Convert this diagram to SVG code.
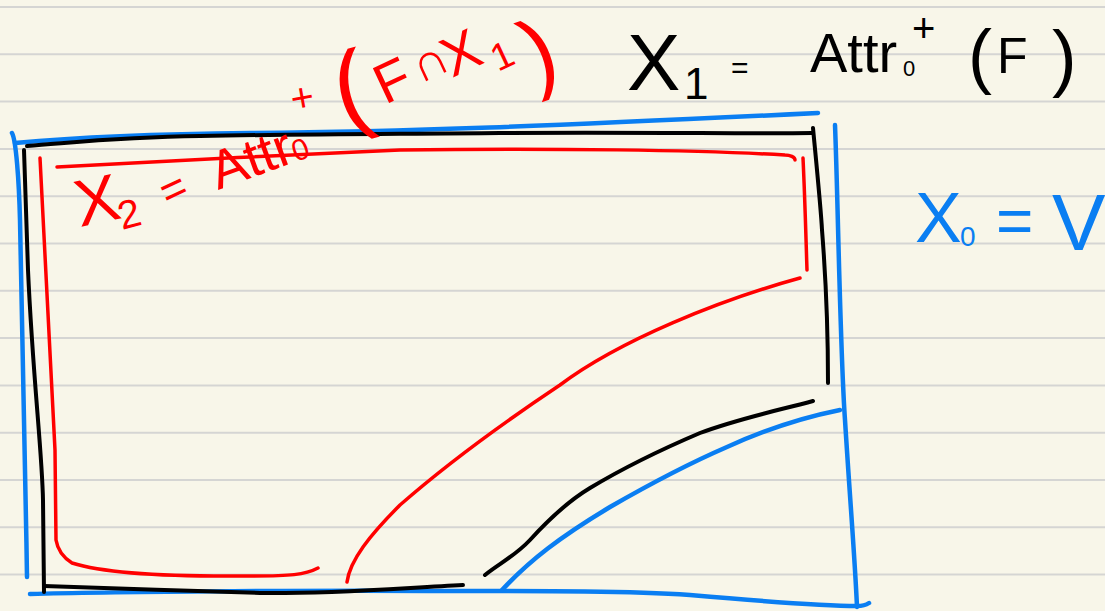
<svg xmlns="http://www.w3.org/2000/svg" width="1105" height="611" viewBox="0 0 1105 611">
<style>
.rule{stroke:#d5d5d3;stroke-width:2;fill:none}
.s{fill:none;stroke-linecap:round;stroke-linejoin:round}
.b{stroke:#0a7ef2;stroke-width:4.5}
.k{stroke:#000;stroke-width:4}
.r{stroke:#ff0000;stroke-width:3.5}
.t{font-family:"Liberation Sans","DejaVu Sans",sans-serif}
.tk{fill:#000}.tr{fill:#ff0000}.tb{fill:#0a7ef2}
</style>
<rect width="1105" height="611" fill="#f8f6e9"/>
<g id="paper">
<path class="rule" d="M0,7H1105M0,54.3H1105M0,101.6H1105M0,148.9H1105M0,196.2H1105M0,243.5H1105M0,290.8H1105M0,338.1H1105M0,385.4H1105M0,432.7H1105M0,480H1105M0,527.3H1105M0,574.6H1105"/>
</g>
<g id="blue-region">
<path class="s b" d="M12,133 C16,140 19,180 20,220 C22,320 25,450 27,577"/>
<path class="s b" d="M15,143 C80,137 150,134 250,133 C400,132 550,126 818,113"/>
<path class="s b" d="M30,594 C100,592 300,590 450,591 C550,591 630,591 690,595 C770,602 820,606 857,606 C862,606 866,605 869,603"/>
<path class="s b" d="M835,125 C838,200 840,350 845,420 C850,500 855,560 857,607"/>
<path class="s b" d="M502,590 C530,560 560,537 610,507 C650,484 690,463 727,447 C760,432 800,418 840,410"/>
</g>
<g id="black-region">
<path class="s k" d="M27,146 C80,142 120,137 200,136 C300,134 400,134 500,133 C650,132 750,134 812,133"/>
<path class="s k" d="M24,150 L28,270 C33,380 42,450 43,500 L44,592"/>
<path class="s k" d="M44,586 C100,588 200,591 260,593 C330,594 400,588 463,585"/>
<path class="s k" d="M813,128 C817,170 821,210 822,230 C826,280 828,330 828,383"/>
<path class="s k" d="M485,575 C500,563 515,556 530,540 C550,518 570,500 590,488 C620,470 660,450 700,433 C740,418 780,410 813,401"/>
</g>
<g id="red-region">
<path class="s r" d="M40,158 C45,250 50,350 55,450 L56,540 C58,552 64,558 72,563 C100,572 150,577 250,576 C290,576 305,575 318,568"/>
<path class="s r" d="M57,167 C150,162 300,154 400,150 C550,148 700,150 785,155 C790,155 795,157 795,160"/>
<path class="s r" d="M803,158 C805,200 806,240 807,270"/>
<path class="s r" d="M800,278 C720,300 620,340 560,385 C500,425 440,470 400,505 C370,535 350,560 347,582"/>
</g>
<g id="label-x1" class="t tk">
<text x="627" y="90" font-size="80">X</text>
<text x="684" y="99" font-size="44">1</text>
<text x="731" y="78" font-size="30">=</text>
<text x="810" y="72" font-size="56">Attr</text>
<text x="903" y="76" font-size="22">0</text>
<text x="912" y="42" font-size="40">+</text>
<text x="968" y="80" font-size="72">(</text>
<text x="997" y="73" font-size="50">F</text>
<text x="1052" y="83" font-size="74">)</text>
</g>
<g id="label-x2" class="t tr">
<text transform="translate(80,227) rotate(-12)" font-size="66">X</text>
<text transform="translate(122,230) rotate(-15)" font-size="40">2</text>
<text transform="translate(168,208) rotate(-25)" font-size="44">=</text>
<text transform="translate(218,190) rotate(-20)" font-size="54">Attr</text>
<text transform="translate(296,162) rotate(-20)" font-size="30">0</text>
<text transform="translate(293,113) rotate(-10)" font-size="40">+</text>
<text transform="translate(343,125) rotate(-15)" font-size="100">(</text>
<text transform="translate(385,105) rotate(-25)" font-size="56">F</text>
<text transform="translate(420,84) rotate(-25)" font-size="50">∩</text>
<text transform="translate(452,78) rotate(-25)" font-size="56">X</text>
<text transform="translate(498,72) rotate(-25)" font-size="38">1</text>
<text transform="translate(535,85) rotate(-20)" font-size="90">)</text>
</g>
<g id="label-x0" class="t tb">
<text x="915" y="242" font-size="70">X</text>
<text x="960" y="246" font-size="28">0</text>
<text x="996" y="243" font-size="64">=</text>
<text x="1052" y="250" font-size="80">V</text>
</g>
</svg>
